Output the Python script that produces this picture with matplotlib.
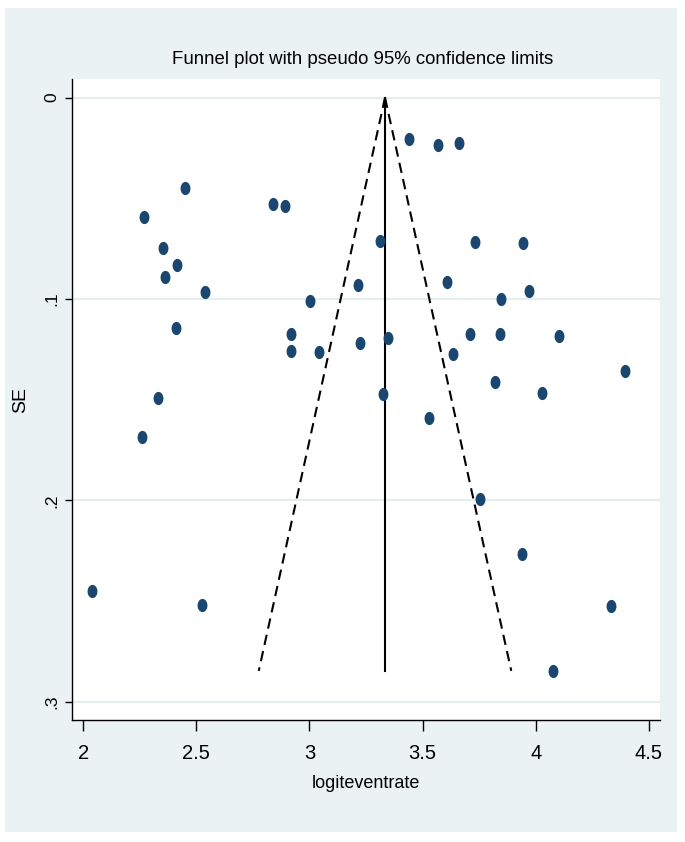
import numpy as np
import matplotlib
matplotlib.use("Agg")
import matplotlib.pyplot as plt
from matplotlib.patches import Rectangle

# study estimates (logit event rate) and their standard errors
logit_rate = [2.039, 2.271, 2.449, 2.352, 2.361, 2.414, 2.540, 2.412, 2.331, 2.261,
              2.525, 2.838, 2.894, 3.004, 2.917, 2.917, 3.042, 3.216, 3.222, 3.313,
              3.347, 3.327, 3.439, 3.569, 3.662, 3.608, 3.731, 3.945, 3.848, 3.971,
              3.711, 3.841, 3.633, 4.101, 3.530, 3.822, 4.027, 4.393, 3.754, 3.938,
              4.332, 4.076]
se = [0.2452, 0.0594, 0.0447, 0.0745, 0.0891, 0.0831, 0.0964, 0.1146, 0.1492, 0.1684,
      0.2517, 0.0528, 0.0537, 0.1008, 0.1172, 0.1260, 0.1263, 0.0929, 0.1219, 0.0712,
      0.1195, 0.1472, 0.0207, 0.0235, 0.0227, 0.0916, 0.0718, 0.0720, 0.1000, 0.0959,
      0.1172, 0.1175, 0.1275, 0.1182, 0.1591, 0.1411, 0.1468, 0.1356, 0.1995, 0.2265,
      0.2525, 0.2846]
pooled = 3.334  # pooled estimate (centre line)

x_ticks = [2, 2.5, 3, 3.5, 4, 4.5]
x_ticklabels = ["2", "2.5", "3", "3.5", "4", "4.5"]
y_ticks = [0, 0.1, 0.2, 0.3]
y_ticklabels = ["0", ".1", ".2", ".3"]

font = ["Liberation Sans", "DejaVu Sans"]
navy = "#1a476f"
bg = "#eaf2f3"

fig = plt.figure(figsize=(6.85, 8.42), dpi=100, facecolor="white")
fig.patches.append(Rectangle((5 / 685, 1 - 832 / 842), 672 / 685, 824 / 842,
                             transform=fig.transFigure, facecolor=bg,
                             edgecolor="none", zorder=0))

ax = fig.add_axes([72 / 685, 1 - 720 / 842, 588 / 685, 640.7 / 842])
ax.set_zorder(2)
ax.set_facecolor("white")

# pseudo 95% confidence limits
semax = max(se)
ax.plot([pooled, pooled - 1.96 * semax], [0, semax], color="black", lw=1.5,
        linestyle=(0, (5, 3)), zorder=2)
ax.plot([pooled, pooled + 1.96 * semax], [0, semax], color="black", lw=1.5,
        linestyle=(0, (5, 3)), zorder=2)
ax.plot([pooled, pooled], [0, semax], color="black", lw=1.5, zorder=2)

# slightly tall ellipse marker
t = np.linspace(0, 2 * np.pi, 40)
ell = np.column_stack([0.75 * np.cos(t), np.sin(t)])
ax.plot(logit_rate, se, linestyle="none", marker=ell, ms=9.5, color=navy,
        markeredgewidth=0, zorder=3)

ax.set_xlim(1.951, 4.549)
ax.set_ylim(0.309, -0.0091)

for y in y_ticks:
    ax.axhline(y, color="#e4edf0", lw=1.6, zorder=1)

for side in ["top", "right"]:
    ax.spines[side].set_visible(False)
for side in ["left", "bottom"]:
    ax.spines[side].set_linewidth(1.0)

ax.set_xticks(x_ticks)
ax.set_xticklabels(x_ticklabels, family=font, fontsize=14.5)
ax.set_yticks(y_ticks)
ax.set_yticklabels(y_ticklabels, family=font, fontsize=12.5, rotation=90, va="center")
ax.tick_params(axis="x", length=8, width=1, pad=9)
ax.tick_params(axis="y", length=5, width=1, pad=4)

fig.text(363 / 685, 1 - 60 / 842, "Funnel plot with pseudo 95% confidence limits",
         ha="center", va="center", family=font, fontsize=13.4)
fig.text(366 / 685, 1 - 783 / 842, "logiteventrate", ha="center", va="center",
         family=font, fontsize=13)
fig.text(21 / 685, 1 - 400 / 842, "SE", ha="center", va="center", rotation=90,
         family=font, fontsize=14)

fig.savefig("out.png", dpi=100, facecolor="white")
